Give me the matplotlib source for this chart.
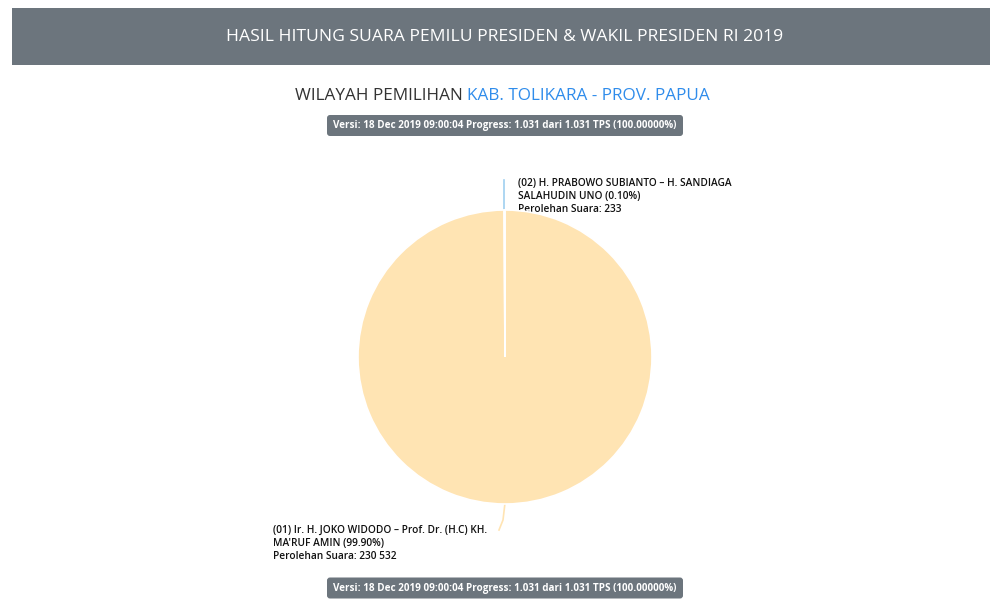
import matplotlib
matplotlib.use("Agg")
import matplotlib.pyplot as plt
from matplotlib.patches import FancyBboxPatch, Rectangle

W, H = 990, 599

candidates = ["(01) Ir. H. JOKO WIDODO – Prof. Dr. (H.C) KH.\nMA'RUF AMIN",
              "(02) H. PRABOWO SUBIANTO – H. SANDIAGA\nSALAHUDIN UNO"]
votes = [230532, 233]
percent_labels = ["99.90%", "0.10%"]
vote_labels = ["230 532", "233"]
colors = ["#FFE4B3", "#9FD0F0"]

header = "HASIL HITUNG SUARA PEMILU PRESIDEN & WAKIL PRESIDEN RI 2019"
region_prefix = "WILAYAH PEMILIHAN "
region_name = "KAB. TOLIKARA - PROV. PAPUA"
version_text = "Versi: 18 Dec 2019 09:00:04 Progress: 1.031 dari 1.031 TPS (100.00000%)"

plt.rcParams['font.family'] = ['Open Sans', 'DejaVu Sans']

fig = plt.figure(figsize=(W / 100, H / 100), dpi=100)
fig.patch.set_facecolor("white")

# overlay axes in pixel coordinates (y downwards)
ov = fig.add_axes([0, 0, 1, 1])
ov.set_xlim(0, W)
ov.set_ylim(H, 0)
ov.axis("off")

# header bar
ov.add_patch(Rectangle((12, 8), W - 12, 57, facecolor="#6C757D", edgecolor="none"))
ov.text(505, 37, header, color="white", fontsize=12.6, ha="center", va="center")

# region title
t1 = ov.text(295, 96, region_prefix, color="#333333", fontsize=12.3, ha="left", va="center")
fig.canvas.draw()
bb = t1.get_window_extent()
ov.text(bb.x1, 96, region_name, color="#2F8CEB", fontsize=12.3,
        ha="left", va="center")

def badge(yc):
    ov.add_patch(FancyBboxPatch((327, yc - 10.5), 356, 21,
                                boxstyle="round,pad=0,rounding_size=3",
                                facecolor="#6C757D", edgecolor="none"))
    ov.text(505, yc, version_text, color="white", fontsize=7.1, fontweight="bold",
            ha="center", va="center")

badge(125.5)
badge(588)

# pie
cx, cy, r = 505, 357, 147
pax = fig.add_axes([(cx - 160) / W, (H - cy - 160) / H, 320 / W, 320 / H])
pax.pie(votes, colors=colors, startangle=90, counterclock=False, radius=r,
        wedgeprops=dict(edgecolor="white", linewidth=1.2))
pax.set_xlim(-160, 160)
pax.set_ylim(-160, 160)
pax.set_aspect("auto")
pax.axis("off")

# leader lines
ov.plot([504, 504], [212, 180], color="#9FD0F0", lw=1.2)
ov.plot([505, 503, 499], [503, 520, 530], color="#FFE4B3", lw=1.2)

lab_fs = 7.3
ov.text(518, 178, f"{candidates[1]} ({percent_labels[1]})\nPerolehan Suara: {vote_labels[1]}",
        color="#111111", fontsize=lab_fs, fontweight="semibold", ha="left", va="top",
        linespacing=1.25)
ov.text(273, 525, f"{candidates[0]} ({percent_labels[0]})\nPerolehan Suara: {vote_labels[0]}",
        color="#111111", fontsize=lab_fs, fontweight="semibold", ha="left", va="top",
        linespacing=1.25)

fig.savefig("out.png", dpi=100, facecolor="white")
